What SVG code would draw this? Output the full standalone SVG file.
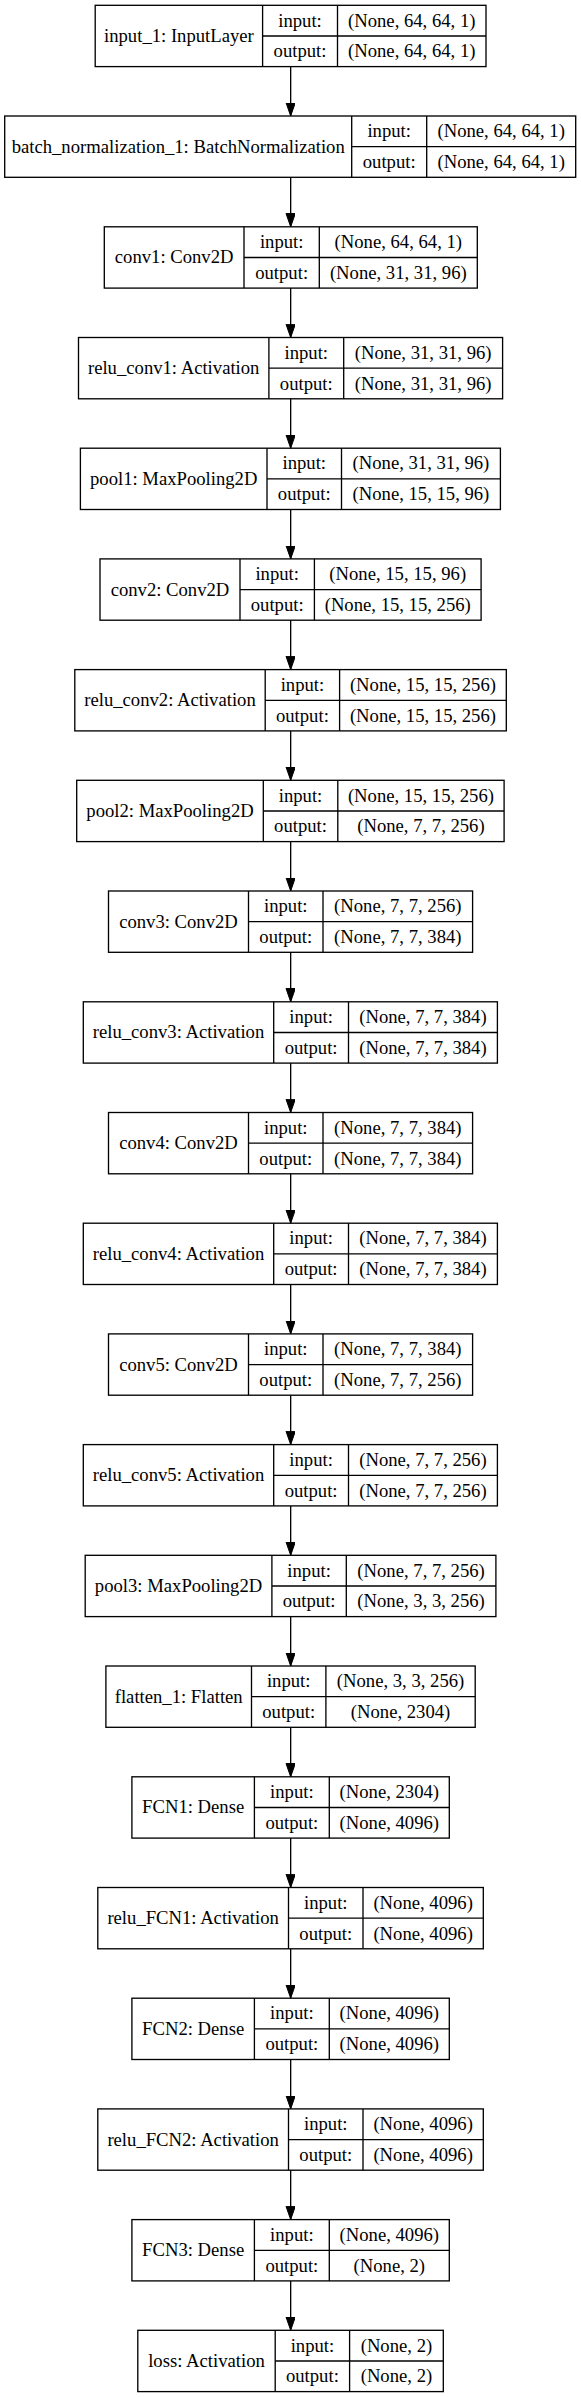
<svg xmlns="http://www.w3.org/2000/svg" width="581" height="2397" viewBox="0 0 581 2397">
<style>
.b{fill:none;stroke:#000;stroke-width:1.33}
.l{stroke:#000;stroke-width:1.33}
.t{font-family:"Liberation Serif","Times New Roman",serif;font-size:18.67px;text-anchor:middle;fill:#000}
.e{stroke:#000;stroke-width:1.33;fill:none;marker-end:url(#ah)}
</style>
<defs>
<marker id="ah" markerUnits="userSpaceOnUse" markerWidth="14" markerHeight="10" refX="13.33" refY="4.67" orient="auto" viewBox="0 0 14 10">
<path d="M0,0 L13.33,4.67 L0,9.33 z" fill="#000" stroke="#000" stroke-width="1"/>
</marker>
</defs>
<rect width="581" height="2397" fill="#fff"/>
<g id="connectors">
<line class="e" x1="290.67" y1="66.6" x2="290.67" y2="116.0"/>
<line class="e" x1="290.67" y1="177.4" x2="290.67" y2="226.8"/>
<line class="e" x1="290.67" y1="288.1" x2="290.67" y2="337.5"/>
<line class="e" x1="290.67" y1="398.8" x2="290.67" y2="448.2"/>
<line class="e" x1="290.67" y1="509.5" x2="290.67" y2="558.9"/>
<line class="e" x1="290.67" y1="620.2" x2="290.67" y2="669.6"/>
<line class="e" x1="290.67" y1="730.9" x2="290.67" y2="780.3"/>
<line class="e" x1="290.67" y1="841.6" x2="290.67" y2="891.0"/>
<line class="e" x1="290.67" y1="952.3" x2="290.67" y2="1001.8"/>
<line class="e" x1="290.67" y1="1063.1" x2="290.67" y2="1112.5"/>
<line class="e" x1="290.67" y1="1173.8" x2="290.67" y2="1223.2"/>
<line class="e" x1="290.67" y1="1284.5" x2="290.67" y2="1333.9"/>
<line class="e" x1="290.67" y1="1395.2" x2="290.67" y2="1444.6"/>
<line class="e" x1="290.67" y1="1505.9" x2="290.67" y2="1555.3"/>
<line class="e" x1="290.67" y1="1616.6" x2="290.67" y2="1666.0"/>
<line class="e" x1="290.67" y1="1727.3" x2="290.67" y2="1776.8"/>
<line class="e" x1="290.67" y1="1838.1" x2="290.67" y2="1887.5"/>
<line class="e" x1="290.67" y1="1948.8" x2="290.67" y2="1998.2"/>
<line class="e" x1="290.67" y1="2059.5" x2="290.67" y2="2108.9"/>
<line class="e" x1="290.67" y1="2170.2" x2="290.67" y2="2219.6"/>
<line class="e" x1="290.67" y1="2280.9" x2="290.67" y2="2330.3"/>
</g>
<g id="n0" transform="translate(0,5.3)">
<rect class="b" x="95.2" y="0" width="390.8" height="61.3"/>
<line class="l" x1="262.6" y1="0" x2="262.6" y2="61.3"/><line class="l" x1="337.5" y1="0" x2="337.5" y2="61.3"/><line class="l" x1="262.6" y1="30.7" x2="486" y2="30.7"/>
<text class="t" x="178.9" y="36.7">input_1: InputLayer</text>
<text class="t" x="300.05" y="21.3">input:</text><text class="t" x="300.05" y="52">output:</text>
<text class="t" x="411.75" y="21.3">(None, 64, 64, 1)</text><text class="t" x="411.75" y="52">(None, 64, 64, 1)</text>
</g>
<g id="n1" transform="translate(0,116.0)">
<rect class="b" x="4.7" y="0" width="571" height="61.3"/>
<line class="l" x1="351.7" y1="0" x2="351.7" y2="61.3"/><line class="l" x1="426.7" y1="0" x2="426.7" y2="61.3"/><line class="l" x1="351.7" y1="30.7" x2="575.7" y2="30.7"/>
<text class="t" x="178.2" y="36.7">batch_normalization_1: BatchNormalization</text>
<text class="t" x="389.2" y="21.3">input:</text><text class="t" x="389.2" y="52">output:</text>
<text class="t" x="501.2" y="21.3">(None, 64, 64, 1)</text><text class="t" x="501.2" y="52">(None, 64, 64, 1)</text>
</g>
<g id="n2" transform="translate(0,226.8)">
<rect class="b" x="104.3" y="0" width="373" height="61.3"/>
<line class="l" x1="244" y1="0" x2="244" y2="61.3"/><line class="l" x1="319.3" y1="0" x2="319.3" y2="61.3"/><line class="l" x1="244" y1="30.7" x2="477.3" y2="30.7"/>
<text class="t" x="174.15" y="36.7">conv1: Conv2D</text>
<text class="t" x="281.65" y="21.3">input:</text><text class="t" x="281.65" y="52">output:</text>
<text class="t" x="398.3" y="21.3">(None, 64, 64, 1)</text><text class="t" x="398.3" y="52">(None, 31, 31, 96)</text>
</g>
<g id="n3" transform="translate(0,337.5)">
<rect class="b" x="78.5" y="0" width="424.1" height="61.3"/>
<line class="l" x1="268.9" y1="0" x2="268.9" y2="61.3"/><line class="l" x1="343.7" y1="0" x2="343.7" y2="61.3"/><line class="l" x1="268.9" y1="30.7" x2="502.6" y2="30.7"/>
<text class="t" x="173.7" y="36.7">relu_conv1: Activation</text>
<text class="t" x="306.3" y="21.3">input:</text><text class="t" x="306.3" y="52">output:</text>
<text class="t" x="423.15" y="21.3">(None, 31, 31, 96)</text><text class="t" x="423.15" y="52">(None, 31, 31, 96)</text>
</g>
<g id="n4" transform="translate(0,448.2)">
<rect class="b" x="80.4" y="0" width="420" height="61.3"/>
<line class="l" x1="267" y1="0" x2="267" y2="61.3"/><line class="l" x1="341.5" y1="0" x2="341.5" y2="61.3"/><line class="l" x1="267" y1="30.7" x2="500.4" y2="30.7"/>
<text class="t" x="173.7" y="36.7">pool1: MaxPooling2D</text>
<text class="t" x="304.25" y="21.3">input:</text><text class="t" x="304.25" y="52">output:</text>
<text class="t" x="420.95" y="21.3">(None, 31, 31, 96)</text><text class="t" x="420.95" y="52">(None, 15, 15, 96)</text>
</g>
<g id="n5" transform="translate(0,558.9)">
<rect class="b" x="100" y="0" width="381.1" height="61.3"/>
<line class="l" x1="240" y1="0" x2="240" y2="61.3"/><line class="l" x1="314.4" y1="0" x2="314.4" y2="61.3"/><line class="l" x1="240" y1="30.7" x2="481.1" y2="30.7"/>
<text class="t" x="170" y="36.7">conv2: Conv2D</text>
<text class="t" x="277.2" y="21.3">input:</text><text class="t" x="277.2" y="52">output:</text>
<text class="t" x="397.75" y="21.3">(None, 15, 15, 96)</text><text class="t" x="397.75" y="52">(None, 15, 15, 256)</text>
</g>
<g id="n6" transform="translate(0,669.6)">
<rect class="b" x="74.8" y="0" width="431.5" height="61.3"/>
<line class="l" x1="265.2" y1="0" x2="265.2" y2="61.3"/><line class="l" x1="339.6" y1="0" x2="339.6" y2="61.3"/><line class="l" x1="265.2" y1="30.7" x2="506.3" y2="30.7"/>
<text class="t" x="170" y="36.7">relu_conv2: Activation</text>
<text class="t" x="302.4" y="21.3">input:</text><text class="t" x="302.4" y="52">output:</text>
<text class="t" x="422.95" y="21.3">(None, 15, 15, 256)</text><text class="t" x="422.95" y="52">(None, 15, 15, 256)</text>
</g>
<g id="n7" transform="translate(0,780.3)">
<rect class="b" x="76.7" y="0" width="427.4" height="61.3"/>
<line class="l" x1="263.3" y1="0" x2="263.3" y2="61.3"/><line class="l" x1="337.8" y1="0" x2="337.8" y2="61.3"/><line class="l" x1="263.3" y1="30.7" x2="504.1" y2="30.7"/>
<text class="t" x="170" y="36.7">pool2: MaxPooling2D</text>
<text class="t" x="300.55" y="21.3">input:</text><text class="t" x="300.55" y="52">output:</text>
<text class="t" x="420.95" y="21.3">(None, 15, 15, 256)</text><text class="t" x="420.95" y="52">(None, 7, 7, 256)</text>
</g>
<g id="n8" transform="translate(0,891.0)">
<rect class="b" x="108.5" y="0" width="364.1" height="61.3"/>
<line class="l" x1="248.5" y1="0" x2="248.5" y2="61.3"/><line class="l" x1="323" y1="0" x2="323" y2="61.3"/><line class="l" x1="248.5" y1="30.7" x2="472.6" y2="30.7"/>
<text class="t" x="178.5" y="36.7">conv3: Conv2D</text>
<text class="t" x="285.75" y="21.3">input:</text><text class="t" x="285.75" y="52">output:</text>
<text class="t" x="397.8" y="21.3">(None, 7, 7, 256)</text><text class="t" x="397.8" y="52">(None, 7, 7, 384)</text>
</g>
<g id="n9" transform="translate(0,1001.8)">
<rect class="b" x="83.3" y="0" width="414.1" height="61.3"/>
<line class="l" x1="273.7" y1="0" x2="273.7" y2="61.3"/><line class="l" x1="348.5" y1="0" x2="348.5" y2="61.3"/><line class="l" x1="273.7" y1="30.7" x2="497.4" y2="30.7"/>
<text class="t" x="178.5" y="36.7">relu_conv3: Activation</text>
<text class="t" x="311.1" y="21.3">input:</text><text class="t" x="311.1" y="52">output:</text>
<text class="t" x="422.95" y="21.3">(None, 7, 7, 384)</text><text class="t" x="422.95" y="52">(None, 7, 7, 384)</text>
</g>
<g id="n10" transform="translate(0,1112.5)">
<rect class="b" x="108.5" y="0" width="364.1" height="61.3"/>
<line class="l" x1="248.5" y1="0" x2="248.5" y2="61.3"/><line class="l" x1="323" y1="0" x2="323" y2="61.3"/><line class="l" x1="248.5" y1="30.7" x2="472.6" y2="30.7"/>
<text class="t" x="178.5" y="36.7">conv4: Conv2D</text>
<text class="t" x="285.75" y="21.3">input:</text><text class="t" x="285.75" y="52">output:</text>
<text class="t" x="397.8" y="21.3">(None, 7, 7, 384)</text><text class="t" x="397.8" y="52">(None, 7, 7, 384)</text>
</g>
<g id="n11" transform="translate(0,1223.2)">
<rect class="b" x="83.3" y="0" width="414.1" height="61.3"/>
<line class="l" x1="273.7" y1="0" x2="273.7" y2="61.3"/><line class="l" x1="348.5" y1="0" x2="348.5" y2="61.3"/><line class="l" x1="273.7" y1="30.7" x2="497.4" y2="30.7"/>
<text class="t" x="178.5" y="36.7">relu_conv4: Activation</text>
<text class="t" x="311.1" y="21.3">input:</text><text class="t" x="311.1" y="52">output:</text>
<text class="t" x="422.95" y="21.3">(None, 7, 7, 384)</text><text class="t" x="422.95" y="52">(None, 7, 7, 384)</text>
</g>
<g id="n12" transform="translate(0,1333.9)">
<rect class="b" x="108.5" y="0" width="364.1" height="61.3"/>
<line class="l" x1="248.5" y1="0" x2="248.5" y2="61.3"/><line class="l" x1="323" y1="0" x2="323" y2="61.3"/><line class="l" x1="248.5" y1="30.7" x2="472.6" y2="30.7"/>
<text class="t" x="178.5" y="36.7">conv5: Conv2D</text>
<text class="t" x="285.75" y="21.3">input:</text><text class="t" x="285.75" y="52">output:</text>
<text class="t" x="397.8" y="21.3">(None, 7, 7, 384)</text><text class="t" x="397.8" y="52">(None, 7, 7, 256)</text>
</g>
<g id="n13" transform="translate(0,1444.6)">
<rect class="b" x="83.3" y="0" width="414.1" height="61.3"/>
<line class="l" x1="273.7" y1="0" x2="273.7" y2="61.3"/><line class="l" x1="348.5" y1="0" x2="348.5" y2="61.3"/><line class="l" x1="273.7" y1="30.7" x2="497.4" y2="30.7"/>
<text class="t" x="178.5" y="36.7">relu_conv5: Activation</text>
<text class="t" x="311.1" y="21.3">input:</text><text class="t" x="311.1" y="52">output:</text>
<text class="t" x="422.95" y="21.3">(None, 7, 7, 256)</text><text class="t" x="422.95" y="52">(None, 7, 7, 256)</text>
</g>
<g id="n14" transform="translate(0,1555.3)">
<rect class="b" x="85.2" y="0" width="410.7" height="61.3"/>
<line class="l" x1="271.9" y1="0" x2="271.9" y2="61.3"/><line class="l" x1="346.3" y1="0" x2="346.3" y2="61.3"/><line class="l" x1="271.9" y1="30.7" x2="495.9" y2="30.7"/>
<text class="t" x="178.55" y="36.7">pool3: MaxPooling2D</text>
<text class="t" x="309.1" y="21.3">input:</text><text class="t" x="309.1" y="52">output:</text>
<text class="t" x="421.1" y="21.3">(None, 7, 7, 256)</text><text class="t" x="421.1" y="52">(None, 3, 3, 256)</text>
</g>
<g id="n15" transform="translate(0,1666.0)">
<rect class="b" x="105.9" y="0" width="369.3" height="61.3"/>
<line class="l" x1="251.5" y1="0" x2="251.5" y2="61.3"/><line class="l" x1="325.9" y1="0" x2="325.9" y2="61.3"/><line class="l" x1="251.5" y1="30.7" x2="475.2" y2="30.7"/>
<text class="t" x="178.7" y="36.7">flatten_1: Flatten</text>
<text class="t" x="288.7" y="21.3">input:</text><text class="t" x="288.7" y="52">output:</text>
<text class="t" x="400.55" y="21.3">(None, 3, 3, 256)</text><text class="t" x="400.55" y="52">(None, 2304)</text>
</g>
<g id="n16" transform="translate(0,1776.8)">
<rect class="b" x="131.9" y="0" width="317.4" height="61.3"/>
<line class="l" x1="254.4" y1="0" x2="254.4" y2="61.3"/><line class="l" x1="329.3" y1="0" x2="329.3" y2="61.3"/><line class="l" x1="254.4" y1="30.7" x2="449.3" y2="30.7"/>
<text class="t" x="193.15" y="36.7">FCN1: Dense</text>
<text class="t" x="291.85" y="21.3">input:</text><text class="t" x="291.85" y="52">output:</text>
<text class="t" x="389.3" y="21.3">(None, 2304)</text><text class="t" x="389.3" y="52">(None, 4096)</text>
</g>
<g id="n17" transform="translate(0,1887.5)">
<rect class="b" x="97.8" y="0" width="385.5" height="61.3"/>
<line class="l" x1="288.5" y1="0" x2="288.5" y2="61.3"/><line class="l" x1="363" y1="0" x2="363" y2="61.3"/><line class="l" x1="288.5" y1="30.7" x2="483.3" y2="30.7"/>
<text class="t" x="193.15" y="36.7">relu_FCN1: Activation</text>
<text class="t" x="325.75" y="21.3">input:</text><text class="t" x="325.75" y="52">output:</text>
<text class="t" x="423.15" y="21.3">(None, 4096)</text><text class="t" x="423.15" y="52">(None, 4096)</text>
</g>
<g id="n18" transform="translate(0,1998.2)">
<rect class="b" x="131.9" y="0" width="317.4" height="61.3"/>
<line class="l" x1="254.4" y1="0" x2="254.4" y2="61.3"/><line class="l" x1="329.3" y1="0" x2="329.3" y2="61.3"/><line class="l" x1="254.4" y1="30.7" x2="449.3" y2="30.7"/>
<text class="t" x="193.15" y="36.7">FCN2: Dense</text>
<text class="t" x="291.85" y="21.3">input:</text><text class="t" x="291.85" y="52">output:</text>
<text class="t" x="389.3" y="21.3">(None, 4096)</text><text class="t" x="389.3" y="52">(None, 4096)</text>
</g>
<g id="n19" transform="translate(0,2108.9)">
<rect class="b" x="97.8" y="0" width="385.5" height="61.3"/>
<line class="l" x1="288.5" y1="0" x2="288.5" y2="61.3"/><line class="l" x1="363" y1="0" x2="363" y2="61.3"/><line class="l" x1="288.5" y1="30.7" x2="483.3" y2="30.7"/>
<text class="t" x="193.15" y="36.7">relu_FCN2: Activation</text>
<text class="t" x="325.75" y="21.3">input:</text><text class="t" x="325.75" y="52">output:</text>
<text class="t" x="423.15" y="21.3">(None, 4096)</text><text class="t" x="423.15" y="52">(None, 4096)</text>
</g>
<g id="n20" transform="translate(0,2219.6)">
<rect class="b" x="131.9" y="0" width="317.4" height="61.3"/>
<line class="l" x1="254.4" y1="0" x2="254.4" y2="61.3"/><line class="l" x1="329.3" y1="0" x2="329.3" y2="61.3"/><line class="l" x1="254.4" y1="30.7" x2="449.3" y2="30.7"/>
<text class="t" x="193.15" y="36.7">FCN3: Dense</text>
<text class="t" x="291.85" y="21.3">input:</text><text class="t" x="291.85" y="52">output:</text>
<text class="t" x="389.3" y="21.3">(None, 4096)</text><text class="t" x="389.3" y="52">(None, 2)</text>
</g>
<g id="n21" transform="translate(0,2330.3)">
<rect class="b" x="137.8" y="0" width="305.5" height="61.3"/>
<line class="l" x1="275.2" y1="0" x2="275.2" y2="61.3"/><line class="l" x1="349.6" y1="0" x2="349.6" y2="61.3"/><line class="l" x1="275.2" y1="30.7" x2="443.3" y2="30.7"/>
<text class="t" x="206.5" y="36.7">loss: Activation</text>
<text class="t" x="312.4" y="21.3">input:</text><text class="t" x="312.4" y="52">output:</text>
<text class="t" x="396.45" y="21.3">(None, 2)</text><text class="t" x="396.45" y="52">(None, 2)</text>
</g>
</svg>
